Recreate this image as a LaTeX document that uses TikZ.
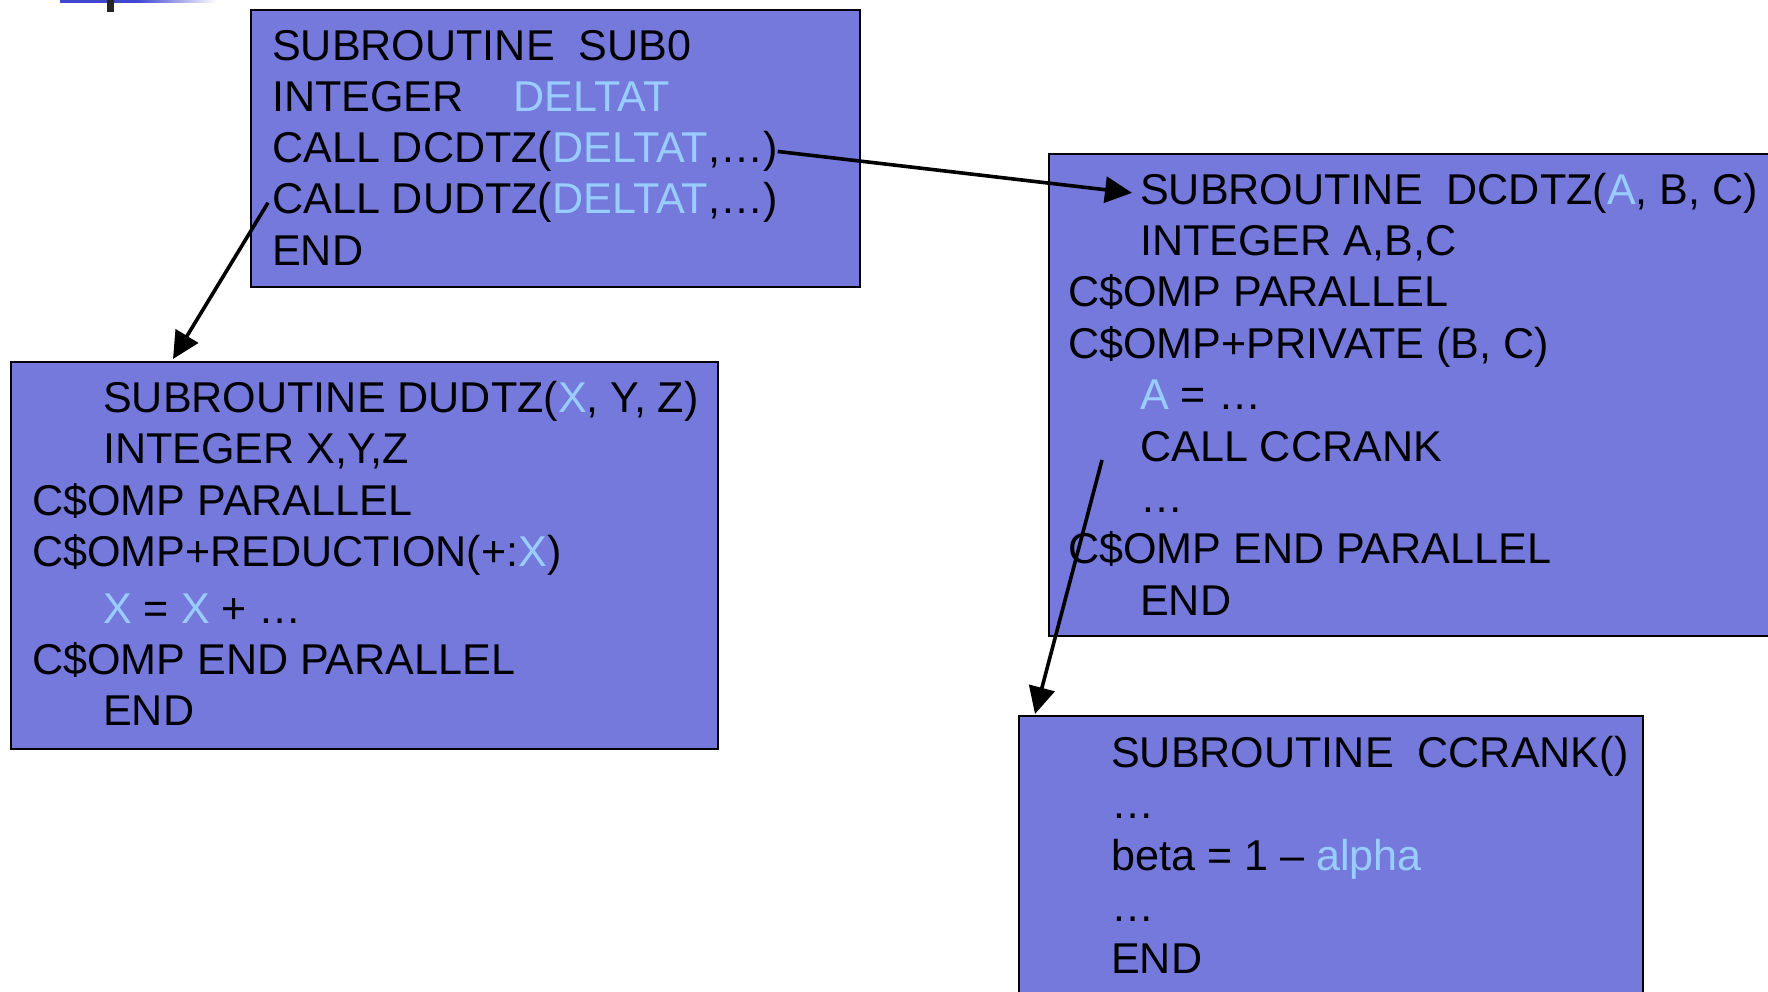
\documentclass[tikz,border=0pt]{standalone}
\usepackage{fontspec}
\setmainfont{Liberation Sans}
\usetikzlibrary{arrows.meta}
\definecolor{boxfill}{RGB}{117,121,220}
\definecolor{lightbl}{RGB}{153,204,255}
\definecolor{topblue}{RGB}{64,72,210}
\newcommand{\lb}[1]{\textcolor{lightbl}{#1}}
\tikzset{
  codebox/.style={draw=black, line width=1.5pt, fill=boxfill, anchor=north west, inner sep=0pt},
  codeline/.style={anchor=base west, inner sep=0pt, text=black},
  link/.style={line width=3.6pt, -{Triangle[length=27pt,width=26pt]}}
}
\begin{document}
\begin{tikzpicture}[x=1pt, y=-1pt, font=\fontsize{43.1}{51}\selectfont]
\useasboundingbox (0,0) rectangle (1768,991);
\clip (0,0) rectangle (1768,991);
% top-left fragment
\fill[topblue] (60,0) rectangle (138,2.5);
\shade[left color=topblue, right color=white] (138,0) rectangle (217,2.5);
\fill[black!85] (107,0) rectangle (114,12);
% boxes
\node[codebox, minimum width=609pt, minimum height=277pt] (sub0) at (250,9) {};
\node[codebox, minimum width=740pt, minimum height=482pt] (dcdtz) at (1048,153) {};
\node[codebox, minimum width=707pt, minimum height=387pt] (dudtz) at (10,361) {};
\node[codebox, minimum width=624pt, minimum height=300pt] (ccrank) at (1018,715) {};
% SUB0
\node[codeline] (a1) at (272,60) {SUBROUTINE\ \ SUB0};
\node[codeline] (a2) at (272,111.3) {INTEGER\hspace{50pt}\lb{DELTAT}};
\node[codeline] (a3) at (272,162.6) {CALL DCDTZ(\lb{DELTAT},…)};
\node[codeline] (a4) at (272,213.9) {CALL DUDTZ(\lb{DELTAT},…)};
\node[codeline] (a5) at (272,265.2) {END};
% DCDTZ
\node[codeline] (b1) at (1140,204) {SUBROUTINE\ \ DCDTZ(\lb{A}, B, C)};
\node[codeline] (b2) at (1140,255.4) {INTEGER A,B,C};
\node[codeline] (b3) at (1068,306.8) {C\$OMP PARALLEL};
\node[codeline] (b4) at (1068,358.2) {C\$OMP+PRIVATE (B, C)};
\node[codeline] (b5) at (1140,409.6) {\lb{A} = …};
\node[codeline] (b6) at (1140,461) {CALL CCRANK};
\node[codeline] (b7) at (1140,512.4) {…};
\node[codeline] (b8) at (1068,563.8) {C\$OMP END PARALLEL};
\node[codeline] (b9) at (1140,615.2) {END};
% DUDTZ
\node[codeline] (c1) at (103,412) {SUBROUTINE DUDTZ(\lb{X}, Y, Z)};
\node[codeline] (c2) at (103,463.5) {INTEGER X,Y,Z};
\node[codeline] (c3) at (32,515) {C\$OMP PARALLEL};
\node[codeline] (c4) at (32,566) {C\$OMP+REDUCTION(+:\lb{X})};
\node[codeline] (c5) at (103,623) {\lb{X} = \lb{X} + …};
\node[codeline] (c6) at (32,674) {C\$OMP END PARALLEL};
\node[codeline] (c7) at (103,725.5) {END};
% CCRANK
\node[codeline] (d1) at (1111,767) {SUBROUTINE\ \ CCRANK()};
\node[codeline] (d2) at (1111,818.5) {…};
\node[codeline] (d3) at (1111,870) {beta = 1 – \lb{alpha}};
\node[codeline] (d4) at (1111,921.5) {…};
\node[codeline] (d5) at (1111,973) {END};
% connectors
\coordinate (dudtzin) at (173,359);
\coordinate (callout) at (1102,460);
\coordinate (ccrankin) at (1035,714);
\draw[link] (a3.east) -- ([xshift=-8pt]b1.west);
\draw[link] ([xshift=-4pt]a4.west) -- (dudtzin);
\draw[link] (callout) -- (ccrankin);
\end{tikzpicture}
\end{document}
